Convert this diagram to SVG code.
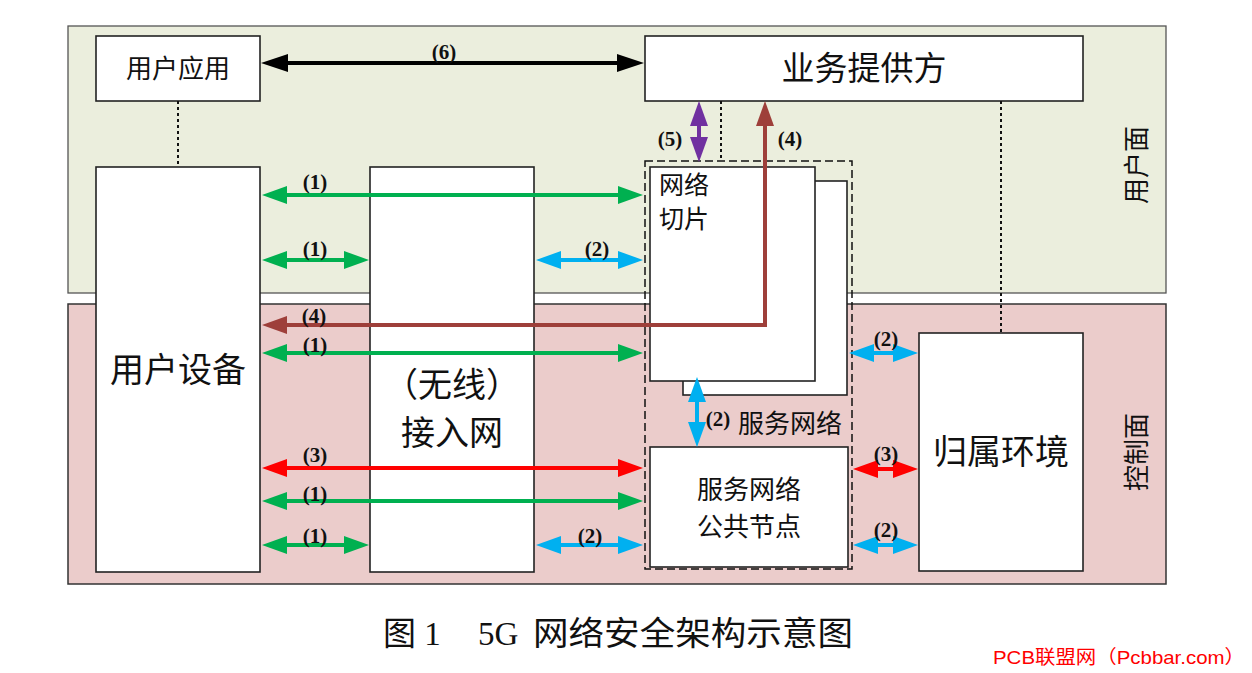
<svg xmlns="http://www.w3.org/2000/svg" width="1252" height="673" viewBox="0 0 1252 673">
<style>
.box{fill:#fff;stroke:#222;stroke-width:1.6}
.cn{font-family:"Liberation Serif","Noto Sans CJK SC",serif;fill:#111}
.lb{font-family:"Liberation Serif",serif;font-weight:bold;font-size:21px;fill:#111;text-anchor:middle}
.dot{stroke:#111;stroke-width:2;stroke-dasharray:3 3;fill:none}
.g{stroke:#00b050;stroke-width:4;fill:none;marker-start:url(#ag);marker-end:url(#ag)}
.b{stroke:#00b0f0;stroke-width:4;fill:none;marker-start:url(#ab);marker-end:url(#ab)}
.r{stroke:#ff0000;stroke-width:4;fill:none;marker-start:url(#ar);marker-end:url(#ar)}
.p{stroke:#7030a0;stroke-width:4;fill:none;marker-start:url(#ap);marker-end:url(#ap)}
.k{stroke:#000;stroke-width:4;fill:none;marker-start:url(#ak);marker-end:url(#ak)}
.br{stroke:#9e3f3a;stroke-width:4;fill:none;marker-start:url(#abr);marker-end:url(#abr)}
</style>
<defs>
<marker id="ag" viewBox="0 0 25 18" refX="17" refY="9" markerWidth="25" markerHeight="18" markerUnits="userSpaceOnUse" orient="auto-start-reverse"><path d="M0,0L25,9L0,18z" fill="#00b050"/></marker>
<marker id="ab" viewBox="0 0 25 18" refX="17" refY="9" markerWidth="25" markerHeight="18" markerUnits="userSpaceOnUse" orient="auto-start-reverse"><path d="M0,0L25,9L0,18z" fill="#00b0f0"/></marker>
<marker id="ar" viewBox="0 0 25 18" refX="17" refY="9" markerWidth="25" markerHeight="18" markerUnits="userSpaceOnUse" orient="auto-start-reverse"><path d="M0,0L25,9L0,18z" fill="#ff0000"/></marker>
<marker id="ap" viewBox="0 0 25 18" refX="17" refY="9" markerWidth="25" markerHeight="18" markerUnits="userSpaceOnUse" orient="auto-start-reverse"><path d="M0,0L25,9L0,18z" fill="#7030a0"/></marker>
<marker id="ak" viewBox="0 0 27 18" refX="19" refY="9" markerWidth="27" markerHeight="18" markerUnits="userSpaceOnUse" orient="auto-start-reverse"><path d="M0,0L27,9L0,18z" fill="#000"/></marker>
<marker id="abr" viewBox="0 0 25 18" refX="17" refY="9" markerWidth="25" markerHeight="18" markerUnits="userSpaceOnUse" orient="auto-start-reverse"><path d="M0,0L25,9L0,18z" fill="#9e3f3a"/></marker>
</defs>
<rect width="1252" height="673" fill="#fff"/>
<g id="user-plane">
<rect x="68" y="26" width="1098" height="267" fill="#ebeedd" stroke="#555" stroke-width="1.3"/>
<text class="cn" font-size="26" text-anchor="middle" transform="translate(1146,165) rotate(-90)">用户面</text>
</g>
<g id="control-plane">
<rect x="68" y="304" width="1098" height="280" fill="#ebcccb" stroke="#333" stroke-width="1.5"/>
<text class="cn" font-size="26" text-anchor="middle" transform="translate(1146,452) rotate(-90)">控制面</text>
</g>
<g id="user-app">
<rect class="box" x="96" y="36" width="164" height="65"/>
<text class="cn" font-size="26" x="178" y="78" text-anchor="middle">用户应用</text>
</g>
<g id="service-provider">
<rect class="box" x="645" y="36" width="438" height="65"/>
<text class="cn" font-size="33" x="864" y="80" text-anchor="middle">业务提供方</text>
</g>
<g id="user-equipment">
<rect class="box" x="96" y="167" width="164" height="405"/>
<text class="cn" font-size="34" x="178" y="382" text-anchor="middle">用户设备</text>
</g>
<g id="access-network">
<rect class="box" x="370" y="167" width="164" height="405"/>
<text class="cn" font-size="34" x="452" y="397" text-anchor="middle">（无线）</text>
<text class="cn" font-size="34" x="452" y="445" text-anchor="middle">接入网</text>
</g>
<g id="serving-network">
<rect x="645" y="161" width="207" height="408" fill="none" stroke="#111" stroke-width="1.5" stroke-dasharray="8 4"/>
<text class="cn" font-size="26" x="738" y="433">服务网络</text>
</g>
<g id="network-slice">
<rect class="box" x="683" y="181" width="164" height="214"/>
<rect class="box" x="650" y="167" width="165" height="214"/>
<text class="cn" font-size="25" x="659" y="194">网络</text>
<text class="cn" font-size="25" x="659" y="228">切片</text>
</g>
<g id="sn-common-node">
<rect class="box" x="650" y="447" width="198" height="120"/>
<text class="cn" font-size="26" x="749" y="499" text-anchor="middle">服务网络</text>
<text class="cn" font-size="26" x="749" y="536" text-anchor="middle">公共节点</text>
</g>
<g id="home-environment">
<rect class="box" x="919" y="333" width="164" height="238"/>
<text class="cn" font-size="34" x="1001" y="464" text-anchor="middle">归属环境</text>
</g>
<g id="connectors">
<line class="dot" x1="178" y1="101" x2="178" y2="167"/>
<line class="dot" x1="721" y1="101" x2="721" y2="161"/>
<line class="dot" x1="1001" y1="101" x2="1001" y2="333"/>
<line class="k" x1="269" y1="63" x2="636" y2="63"/>
<line class="p" x1="699" y1="109" x2="699" y2="154"/>
<path class="br" d="M270,325 L765,325 L765,109"/>
<line class="g" x1="270" y1="195" x2="635" y2="195"/>
<line class="g" x1="270" y1="260" x2="361" y2="260"/>
<line class="b" x1="544" y1="260" x2="635" y2="260"/>
<line class="g" x1="270" y1="353" x2="635" y2="353"/>
<line class="r" x1="270" y1="468" x2="635" y2="468"/>
<line class="g" x1="270" y1="501" x2="635" y2="501"/>
<line class="g" x1="270" y1="545" x2="361" y2="545"/>
<line class="b" x1="544" y1="545" x2="635" y2="545"/>
<line class="b" x1="697" y1="385" x2="697" y2="439"/>
<line class="b" x1="857" y1="353" x2="910" y2="353"/>
<line class="r" x1="861" y1="469" x2="910" y2="469"/>
<line class="b" x1="861" y1="545" x2="910" y2="545"/>
<text class="lb" x="444" y="59">(6)</text>
<text class="lb" x="670" y="146">(5)</text>
<text class="lb" x="790" y="146">(4)</text>
<text class="lb" x="315" y="189">(1)</text>
<text class="lb" x="315" y="256">(1)</text>
<text class="lb" x="597" y="256">(2)</text>
<text class="lb" x="314" y="323">(4)</text>
<text class="lb" x="315" y="352">(1)</text>
<text class="lb" x="315" y="462">(3)</text>
<text class="lb" x="315" y="501">(1)</text>
<text class="lb" x="315" y="543">(1)</text>
<text class="lb" x="590" y="543">(2)</text>
<text class="lb" x="718" y="426">(2)</text>
<text class="lb" x="886" y="346">(2)</text>
<text class="lb" x="886" y="461">(3)</text>
<text class="lb" x="886" y="537">(2)</text>
</g>
<g id="caption">
<text class="cn" font-size="33" x="383" y="645">图 1</text>
<text class="cn" font-size="33" x="478" y="645">5G</text>
<text class="cn" font-size="33" x="533" y="645" textLength="320" lengthAdjust="spacingAndGlyphs">网络安全架构示意图</text>
<text x="993" y="664" font-family="'Liberation Sans','Noto Sans CJK SC',sans-serif" font-size="19" fill="#ff0000" textLength="252" lengthAdjust="spacingAndGlyphs">PCB联盟网（Pcbbar.com）</text>
</g>
</svg>
